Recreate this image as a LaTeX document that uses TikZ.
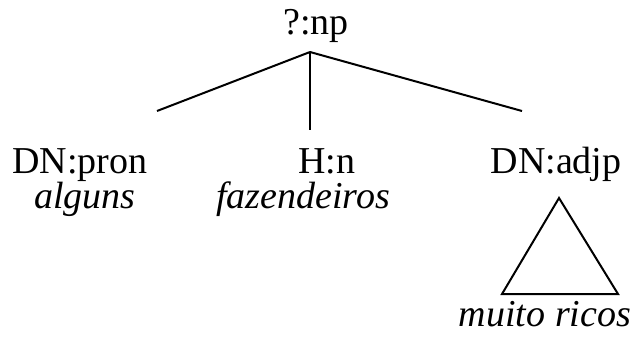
\documentclass[tikz,border=0pt]{standalone}
\usepackage{fontspec}
\setmainfont{Liberation Serif}
\usetikzlibrary{positioning}

\begin{document}
\begin{tikzpicture}[
    x=0.75pt, y=-0.75pt,
    cat/.style={anchor=base, inner sep=0pt, font=\fontsize{28.5}{33}\selectfont},
    word/.style={cat, font=\fontsize{28.5}{33}\selectfont\itshape},
    branch/.style={line width=1.5pt},
]
\useasboundingbox (0,0) rectangle (630,343);

\node[cat] (np) at (316,34) {?:np};
\coordinate (apex) at (310,52);

\node[cat] (dnpron) at (80,173) {DN:pron};
\node[cat] (hn) at (327,173) {H:n};
\node[cat] (dnadjp) at (556,173) {DN:adjp};

\node[word] (alguns) at (85,208) {alguns};
\node[word] (fazend) at (303,208) {fazendeiros};
\node[word] (muito) at (545,326) {muito ricos};

% branches
\coordinate (leftend) at (157,111);
\coordinate (midend) at (310,130);
\coordinate (rightend) at (522,111);
\draw[branch] (apex) -- (leftend);
\draw[branch] (apex) -- (midend);
\draw[branch] (apex) -- (rightend);

% triangle over the adjp
\coordinate (tri) at (559,198);
\draw[branch, line join=miter] (tri) -- (502,294) -- (618,294) -- cycle;
\end{tikzpicture}
\end{document}
